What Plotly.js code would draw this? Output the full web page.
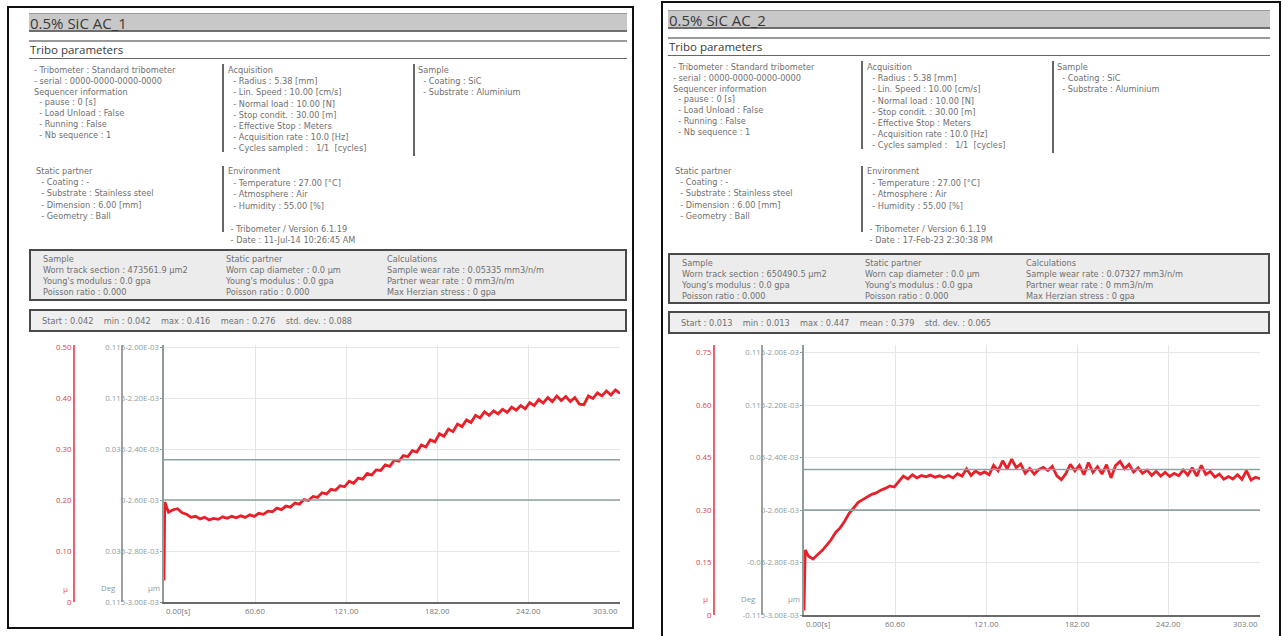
<!DOCTYPE html>
<html><head><meta charset="utf-8">
<script src="https://cdn.plot.ly/plotly-3.0.1.min.js"></script>
<style>
body{margin:0;background:#fff;width:1284px;height:636px;overflow:hidden;position:relative;font-family:"Open Sans",sans-serif;}
.panel{position:absolute;border:2px solid #111;box-sizing:border-box;}
.bar{position:absolute;background:#c8c8c8;border-top:1px solid #999;border-bottom:2px solid #6e6e6e;box-sizing:border-box;}
.title{position:absolute;font-size:15px;color:#3a3a3a;transform:translateY(-50%);white-space:pre;}
.sub{position:absolute;font-size:11.5px;color:#3a3a3a;transform:translateY(-50%);white-space:pre;}
.hl{position:absolute;height:0;}
.vl{position:absolute;width:0;border-left:2px solid #666;}
.t{position:absolute;font-family:"DejaVu Sans",sans-serif;font-size:8.2px;color:#707070;transform:translateY(-50%);white-space:pre;line-height:1;}
.box{position:absolute;border:2px solid #4a4a4a;background:#ececec;box-sizing:border-box;}
.chart{position:absolute;}
</style></head>
<body>
<script>
// ---------------- chart data ----------------
const xTickVals = [0, 60.6, 121, 182, 242, 303];
const xTickText = ["0.00[s]", "60.60", "121.00", "182.00", "242.00", "303.00"];

const cofTicks1 = [0, 0.1, 0.2, 0.3, 0.4, 0.5];
const cofLabels1 = ["0", "0.10", "0.20", "0.30", "0.40", "0.50"];
const auxLabels1 = ["0.115-3.00E-03", "0.035-2.80E-03", "0-2.60E-03", "0.035-2.40E-03", "0.115-2.20E-03", "0.115-2.00E-03"];
const refLines1 = [0.2, 0.279];

const cofTicks2 = [0, 0.15, 0.3, 0.45, 0.6, 0.75];
const cofLabels2 = ["0", "0.15", "0.30", "0.45", "0.60", "0.75"];
const auxLabels2 = ["-0.115-3.00E-03", "-0.05-2.80E-03", "0-2.60E-03", "0.05-2.40E-03", "0.115-2.20E-03", "0.115-2.00E-03"];
const refLines2 = [0.3, 0.416];

const time1 = [0,0.5,3,6,9,12,15,18,21,24,27,30,33,36,39,42,45,48,51,54,57,60,63,66,69,72,75,78,81,84,87,90,93,96,99,102,105,108,111,114,117,120,123,126,129,132,135,138,141,144,147,150,153,156,159,162,165,168,171,174,177,180,183,186,189,192,195,198,201,204,207,210,213,216,219,222,225,228,231,234,237,240,243,246,249,252,255,258,261,264,267,270,273,276,279,282,285,288,291,294,297,300,303];
const cof1 = [0.042,0.196,0.176,0.181,0.183,0.175,0.172,0.166,0.168,0.163,
0.166,0.161,0.164,0.162,0.167,0.164,0.168,0.165,0.169,0.166,
0.171,0.168,0.174,0.172,0.178,0.177,0.184,0.181,0.188,0.186,
0.194,0.192,0.201,0.199,0.207,0.205,0.214,0.212,0.221,0.219,
0.228,0.226,0.237,0.233,0.243,0.241,0.252,0.249,0.259,0.258,
0.269,0.266,0.278,0.276,0.287,0.285,0.297,0.294,0.308,0.304,
0.318,0.314,0.330,0.325,0.339,0.334,0.349,0.344,0.357,0.352,
0.366,0.361,0.373,0.366,0.375,0.369,0.378,0.372,0.382,0.376,
0.385,0.379,0.391,0.385,0.397,0.390,0.401,0.393,0.404,0.395,
0.403,0.393,0.401,0.388,0.387,0.404,0.399,0.410,0.404,0.414,
0.406,0.416,0.409];

const time2 = [0,0.8,3,6,9,12,15,18,21,24,27,30,33,36,39,42,45,48,51,54,57,60,63,66,69,72,75,78,81,84,87,90,93,96,99,102,105,108,111,114,117,120,123,126,129,132,135,138,141,144,147,150,153,156,159,162,165,168,171,174,177,180,183,186,189,192,195,198,201,204,207,210,213,216,219,222,225,228,231,234,237,240,243,246,249,252,255,258,261,264,267,270,273,276,279,282,285,288,291,294,297,300,303];
const cof2 = [0.013,0.186,0.168,0.160,0.172,0.184,0.199,0.215,0.236,0.249,
0.268,0.291,0.306,0.322,0.330,0.338,0.345,0.349,0.357,0.362,
0.369,0.366,0.381,0.397,0.389,0.401,0.392,0.399,0.395,0.400,
0.394,0.398,0.393,0.399,0.392,0.404,0.397,0.418,0.399,0.412,
0.403,0.409,0.401,0.428,0.412,0.441,0.418,0.446,0.421,0.432,
0.405,0.419,0.403,0.416,0.422,0.413,0.425,0.398,0.387,0.404,
0.431,0.412,0.428,0.401,0.436,0.408,0.424,0.403,0.430,0.392,
0.427,0.439,0.418,0.431,0.409,0.421,0.405,0.414,0.399,0.411,
0.397,0.408,0.396,0.405,0.398,0.415,0.400,0.421,0.397,0.428,
0.402,0.410,0.394,0.403,0.388,0.396,0.389,0.401,0.388,0.413,
0.386,0.394,0.390];

// ---------------- report text ----------------
const titles = ["0.5% SiC AC_1", "0.5% SiC AC_2"];
const colTribo = ["- Tribometer : Standard tribometer", "- serial : 0000-0000-0000-0000", "Sequencer information", "  - pause : 0 [s]", "  - Load Unload : False", "  - Running : False", "  - Nb sequence : 1"];
const colAcq = ["Acquisition", "  - Radius : 5.38 [mm]", "  - Lin. Speed : 10.00 [cm/s]", "  - Normal load : 10.00 [N]", "  - Stop condit. : 30.00 [m]", "  - Effective Stop : Meters", "  - Acquisition rate : 10.0 [Hz]", "  - Cycles sampled :   1/1  [cycles]"];
const colSample = ["Sample", "  - Coating : SiC", "  - Substrate : Aluminium"];
const colStatic = ["Static partner", "  - Coating : -", "  - Substrate : Stainless steel", "  - Dimension : 6.00 [mm]", "  - Geometry : Ball"];
const colEnv1 = ["Environment", "  - Temperature : 27.00 [°C]", "  - Atmosphere : Air", "  - Humidity : 55.00 [%]", "", " - Tribometer / Version 6.1.19", " - Date : 11-Jul-14 10:26:45 AM"];
const colEnv2 = ["Environment", "  - Temperature : 27.00 [°C]", "  - Atmosphere : Air", "  - Humidity : 55.00 [%]", "", " - Tribometer / Version 6.1.19", " - Date : 17-Feb-23 2:30:38 PM"];
const box1A = [["Sample", "Worn track section : 473561.9 µm2", "Young's modulus : 0.0 gpa", "Poisson ratio : 0.000"],
               ["Static partner", "Worn cap diameter : 0.0 µm", "Young's modulus : 0.0 gpa", "Poisson ratio : 0.000"],
               ["Calculations", "Sample wear rate : 0.05335 mm3/n/m", "Partner wear rate : 0 mm3/n/m", "Max Herzian stress : 0 gpa"]];
const box1B = [["Sample", "Worn track section : 650490.5 µm2", "Young's modulus : 0.0 gpa", "Poisson ratio : 0.000"],
               ["Static partner", "Worn cap diameter : 0.0 µm", "Young's modulus : 0.0 gpa", "Poisson ratio : 0.000"],
               ["Calculations", "Sample wear rate : 0.07327 mm3/n/m", "Partner wear rate : 0 mm3/n/m", "Max Herzian stress : 0 gpa"]];
const stats1 = "Start : 0.042    min : 0.042    max : 0.416    mean : 0.276    std. dev. : 0.088";
const stats2 = "Start : 0.013    min : 0.013    max : 0.447    mean : 0.379    std. dev. : 0.065";

function el(cls, css, txt) {
  const d = document.createElement('div');
  d.className = cls;
  Object.assign(d.style, css);
  if (txt !== undefined) d.textContent = txt;
  document.body.appendChild(d);
  return d;
}
function px(v){return v + 'px';}

function buildPanel(o) {
  const X = o.x0;
  el('panel', {left:px(o.px), top:px(o.py), width:px(o.pw), height:px(o.ph)});
  el('bar', {left:px(X+22), top:px(o.barTop), width:px(o.barW), height:px(19)});
  el('title', {left:px(X+23), top:px(o.barTop+10)}, o.title);
  el('hl', {left:px(X+22), top:px(o.barTop+27), width:px(o.barW), borderTop:'2px solid #9a9a9a'});
  el('sub', {left:px(X+23), top:px(o.barTop+36)}, 'Tribo parameters');
  el('hl', {left:px(X+22), top:px(o.barTop+45), width:px(o.barW), borderTop:'1.5px solid #666'});
  const r0 = o.row0, dy = 10.8;
  colTribo.forEach((s,i)=> el('t', {left:px(X+27), top:px(r0+i*dy)}, s));
  colAcq.forEach((s,i)=> el('t', {left:px(X+221), top:px(r0+i*dy + (i>0?0.4*i:0))}, s));
  colSample.forEach((s,i)=> el('t', {left:px(X+411), top:px(r0+i*dy)}, s));
  el('vl', {left:px(X+215), top:px(r0-6), height:px(88)});
  el('vl', {left:px(X+406), top:px(r0-6), height:px(92)});
  const r1 = o.row1;
  colStatic.forEach((s,i)=> el('t', {left:px(X+29), top:px(r1+i*11.2)}, s));
  o.env.forEach((s,i)=> el('t', {left:px(X+221), top:px(r1+i*11.5)}, s));
  el('vl', {left:px(X+215), top:px(r1-5), height:px(66)});
  el('box', {left:px(X+22), top:px(o.b1Top), width:px(o.barW), height:px(o.b1H)});
  const cols = [X+36, X+219, X+380];
  o.box1.forEach((col,c)=> col.forEach((s,i)=> el('t', {left:px(cols[c]), top:px(o.b1Top+10+i*11)}, s)));
  el('box', {left:px(X+22), top:px(o.b2Top), width:px(o.barW), height:px(23), background:'#efefef'});
  el('t', {left:px(X+35), top:px(o.b2Top+11.5)}, o.stats);
}

buildPanel({x0:7, px:7, py:6, pw:627, ph:623, barTop:13, barW:598, title:titles[0], row0:70, row1:171, env:colEnv1, b1Top:249, b1H:52, box1:box1A, b2Top:309, stats:stats1});
buildPanel({x0:646, px:661, py:1, pw:620, ph:700, barTop:10, barW:602, title:titles[1], row0:67, row1:171, env:colEnv2, b1Top:253, b1H:51, box1:box1B, b2Top:311, stats:stats2});

// ---------------- charts ----------------
function makeChart(id, left, top, height, mb, t, v, yTop, cofTicks, cofLabels, auxLabels, refs, annY) {
  const d = el('chart', {left:px(left), top:px(top), width:'610px', height:px(height)});
  d.id = id;
  const red = '#e8202a';
  const traces = [
    {x:t, y:v, type:'scatter', mode:'lines', line:{color:red, width:2.8}, hoverinfo:'skip'},
    {x:[xTickVals[0], xTickVals[xTickVals.length-1]], y:[cofTicks[0], cofTicks[0]], yaxis:'y2', mode:'lines', line:{width:0}, hoverinfo:'skip'},
    {x:[xTickVals[0], xTickVals[xTickVals.length-1]], y:[cofTicks[0], cofTicks[0]], yaxis:'y3', mode:'lines', line:{width:0}, hoverinfo:'skip'}
  ];
  const rng = [0, yTop];
  const annotations = xTickVals.map((xv,i)=>({
    x:xv, xref:'x', y:0, yref:'paper', yanchor:'top', yshift:-2,
    xanchor: i===0 ? 'left' : (i===xTickVals.length-1 ? 'right' : 'center'),
    text:xTickText[i], showarrow:false, font:{size:7.8, color:'#777'}
  }));
  annotations.push({x:0.0569, xref:'paper', y:annY, yref:'y', xanchor:'right', xshift:-3, text:'µ', showarrow:false, font:{size:8, color:'#e8545a'}});
  annotations.push({x:0.1397, xref:'paper', y:annY, yref:'y', xanchor:'right', xshift:-3, text:'Deg', showarrow:false, font:{size:7.8, color:'#8c9c9c'}});
  annotations.push({x:0.2138, xref:'paper', y:annY, yref:'y', xanchor:'right', xshift:-2, text:'µm', showarrow:false, font:{size:7.8, color:'#8c9c9c'}});
  const shapes = refs.map(r=>({type:'line', xref:'x', yref:'y', x0:xTickVals[0], x1:xTickVals[xTickVals.length-1], y0:r, y1:r, line:{color:'#8fa2a2', width:1.6}}));
  const layout = {
    width:610, height:height, margin:{l:20, r:10, t:10, b:mb},
    paper_bgcolor:'rgba(0,0,0,0)', plot_bgcolor:'#fff', showlegend:false,
    font:{family:'"Open Sans", sans-serif'},
    xaxis:{domain:[0.2138,1], range:[xTickVals[0], xTickVals[xTickVals.length-1]], tickvals:xTickVals, showticklabels:false, ticks:'',
           showgrid:true, gridcolor:'#e6e6e6', gridwidth:1, zeroline:false, showline:true, linecolor:'#6a6a6a', linewidth:2},
    yaxis:{anchor:'free', position:0.0569, range:rng, tickvals:cofTicks, ticktext:cofLabels, tickfont:{size:7.8, color:'#e04048'},
           showline:true, linecolor:'#e9606a', linewidth:1.6, ticks:'', showgrid:true, gridcolor:'#e6e6e6', zeroline:false},
    yaxis2:{overlaying:'y', anchor:'free', position:0.1397, range:rng, showline:true, linecolor:'#a0a0a0', linewidth:1.6,
            showticklabels:false, ticks:'', showgrid:false, zeroline:false},
    yaxis3:{overlaying:'y', anchor:'x', range:rng, tickvals:cofTicks, ticktext:auxLabels, tickfont:{size:7.8, color:'#8c9c9c'},
            showline:true, linecolor:'#909c9c', linewidth:1.6, ticks:'outside', ticklen:2, tickcolor:'#909c9c', showgrid:false, zeroline:false},
    shapes:shapes, annotations:annotations
  };
  Plotly.newPlot(d, traces, layout, {displayModeBar:false, staticPlot:true});
}

makeChart('c1', 20, 335, 295, 28, time1, cof1, 0.504, cofTicks1, cofLabels1, auxLabels1, refLines1, 0.027);
makeChart('c2', 660, 335, 305, 25, time2, cof2, 0.772, cofTicks2, cofLabels2, auxLabels2, refLines2, 0.046);
</script>
</body></html>
